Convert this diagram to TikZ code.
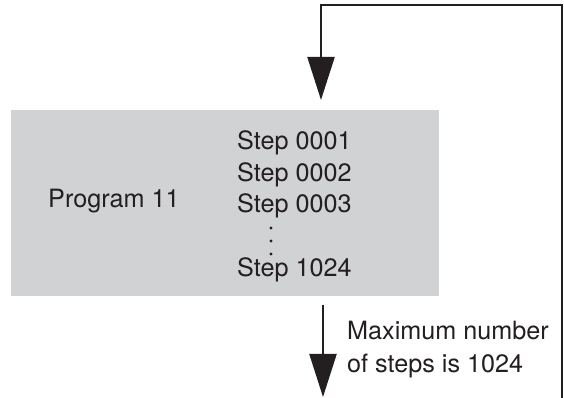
\documentclass[tikz,border=0pt]{standalone}
\usepackage{fontspec}
\setmainfont{TeX Gyre Heros}
\usetikzlibrary{arrows.meta}
\definecolor{boxgray}{RGB}{209,210,212}
\definecolor{ink}{RGB}{35,31,32}
\begin{document}
\begin{tikzpicture}[x=1pt,y=1pt,
  lbl/.style={inner sep=0pt,text=ink,font=\fontsize{25.2}{30}\selectfont},
  conn/.style={draw=ink,line width=2.2pt},
  bigtip/.style={-{Triangle[length=43pt,width=27pt]}},
  dotmark/.style={circle,fill=ink,inner sep=0pt,minimum size=3.4pt}]
\useasboundingbox (0,0) rectangle (564,398);
% box
\node[fill=boxgray,minimum width=428pt,minimum height=186pt,inner sep=0pt] (prog) at (225,195) {};
\node[lbl,anchor=base west] (pname) at (48,190) {Program 11};
\node[lbl,anchor=base west] (s1) at (237,248) {Step 0001};
\node[lbl,anchor=base west] (s2) at (237,216.5) {Step 0002};
\node[lbl,anchor=base west] (s3) at (237,185) {Step 0003};
\node[dotmark] (d1) at (271,170) {};
\node[dotmark] (d2) at (271,157) {};
\node[dotmark] (d3) at (271,144) {};
\node[lbl,anchor=base west] (s4) at (237,121) {Step 1024};
% loop arrow
\coordinate (rb) at (562,0);
\coordinate (tl) at (321,393);
\coordinate (ti) at (321,298);
\draw[conn,bigtip] (rb) |- (tl) -- (ti);
% output arrow
\coordinate (ob) at (323,93);
\coordinate (oe) at (323,1);
\draw[conn,bigtip] (ob) -- (oe);
\node[lbl,anchor=base west] (m1) at (347,58) {Maximum number};
\node[lbl,anchor=base west] (m2) at (347,25) {of steps is 1024};
\end{tikzpicture}
\end{document}
